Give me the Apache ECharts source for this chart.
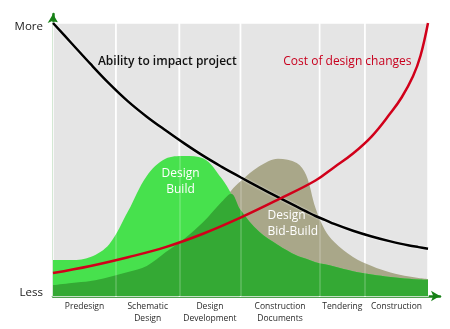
<!DOCTYPE html>
<html>
<head>
<meta charset="utf-8">
<script src="https://cdn.jsdelivr.net/npm/echarts@6/dist/echarts.min.js"></script>
<style>
  html, body { margin: 0; padding: 0; background: #fff; }
  #chart { width: 450px; height: 329px; }
</style>
</head>
<body>
<div id="chart"></div>
<script>
// Project phases and where each one starts/ends along the project timeline (0-100)
const phaseNames = ['Predesign', 'Schematic\nDesign', 'Design\nDevelopment', 'Construction\nDocuments', 'Tendering', 'Construction'];
const phaseBounds = [0, 16.8, 33.7, 50, 71.1, 83.2, 100];

// Timeline positions at which the effort and impact curves are sampled
const progress = [0, 5, 10, 15, 20, 25, 30, 35, 40, 45, 47.5, 50, 55, 60, 65, 67.5, 70, 72.5, 75, 80, 85, 90, 95, 97.5, 100];

// Ability to impact the project (Less = 0, More = 100)
const abilityToImpact = [100, 92.5, 85, 77.8, 71.3, 65.7, 60.7, 55.9, 51.4, 47.3, 45.4, 43.5, 39.8, 36.2, 32.7, 31, 29.3, 27.9, 26.4, 23.9, 21.8, 20, 18.5, 17.9, 17.3];
// Design effort: Design-Build delivery
const designBuild = [13.2, 13.2, 14.3, 19, 31, 44, 50.3, 51.3, 50.5, 43, 37.5, 31.5, 23.5, 18.7, 14.8, 13.6, 12.4, 11.6, 10.8, 9.1, 7.9, 7, 6.3, 6, 5.9];
// Design effort: Design-Bid-Build delivery
const designBidBuild = [4, 4.8, 5.5, 7, 8.8, 11, 16, 21, 27, 34.5, 38.6, 42, 47.5, 50.3, 48.7, 44.3, 32.2, 24.2, 19.8, 14.3, 11, 8.6, 7.1, 6.6, 6.2];

// Cost of design changes, sampled more finely where it climbs steeply
const costProgress = [0, 10, 20, 30, 40, 50, 60, 70, 75, 80, 85, 90, 93, 96, 98, 100];
const costOfChanges = [8.4, 11, 14.2, 17.9, 22.8, 28.7, 35.3, 42.3, 47.2, 52.2, 58.5, 67, 72.8, 80.5, 88, 100];

// Effort shared by both delivery methods (where the two areas overlap)
const sharedEffort = designBuild.map((v, i) => Math.min(v, designBidBuild[i]));

const pairs = (xs, arr) => xs.map((x, i) => [x, arr[i]]);

const FONT = '"Open Sans", "Noto Sans", sans-serif';
const AXIS_GREEN = '#178117';

const chart = echarts.init(document.getElementById('chart'), null, { renderer: 'canvas' });

const phaseAreas = phaseNames.map((name, i) => [
  { name: name, xAxis: phaseBounds[i], yAxis: 0 },
  { xAxis: phaseBounds[i + 1], yAxis: 100 }
]);

const areaSeries = (name, data, color, z) => ({
  name: name,
  type: 'line',
  data: pairs(progress, data),
  smooth: 0.35,
  showSymbol: false,
  z: z,
  lineStyle: { width: 0 },
  areaStyle: { color: color, opacity: 1 },
  silent: true
});

chart.setOption({
  animation: false,
  backgroundColor: '#fff',
  grid: { left: 53, right: 10, top: 14, bottom: 33 },
  xAxis: {
    type: 'value',
    min: 0,
    max: 103.2,
    axisLine: {
      show: true,
      symbol: ['none', 'arrow'],
      symbolSize: [8, 9],
      lineStyle: { color: AXIS_GREEN, width: 2.5 }
    },
    axisTick: { show: false },
    axisLabel: { show: false },
    splitLine: { show: false }
  },
  yAxis: {
    type: 'value',
    min: 0,
    max: 103.3,
    interval: 100,
    axisLine: {
      show: true,
      symbol: ['none', 'arrow'],
      symbolSize: [8, 9],
      lineStyle: { color: AXIS_GREEN, width: 2.5 }
    },
    axisTick: { show: false },
    splitLine: { show: false },
    axisLabel: {
      margin: 10,
      formatter: v => (v === 0 ? '{l|Less}' : v === 100 ? '{m|More}' : ''),
      rich: {
        m: { fontFamily: FONT, fontSize: 11.5, color: '#1a1a1a', padding: [8, 0, 0, 0] },
        l: { fontFamily: FONT, fontSize: 11.5, color: '#1a1a1a', padding: [0, 0, 7, 0] }
      }
    }
  },
  series: [
    {
      // phase bands and their names under the axis
      name: 'phases',
      type: 'line',
      data: [],
      z: 0,
      silent: true,
      markArea: {
        silent: true,
        itemStyle: { color: '#e5e5e5', borderColor: '#ffffff', borderWidth: 1.5 },
        label: {
          show: true,
          position: 'bottom',
          distance: 4,
          fontFamily: FONT,
          fontSize: 8.5,
          lineHeight: 12,
          color: '#2a2a2a',
          align: 'center'
        },
        data: phaseAreas
      }
    },
    areaSeries('Design Bid-Build', designBidBuild, '#a9a789', 1),
    areaSeries('Design Build', designBuild, '#47e14d', 2),
    areaSeries('Shared', sharedEffort, '#34a934', 3),
    {
      // faint phase separators showing through the effort areas
      name: 'separators',
      type: 'line',
      data: [],
      z: 4,
      silent: true,
      markLine: {
        silent: true,
        symbol: 'none',
        label: { show: false },
        lineStyle: { color: 'rgba(255,255,255,0.22)', width: 1.5, type: 'solid' },
        data: phaseBounds.slice(1, -1).map(x => ({ xAxis: x }))
      }
    },
    {
      name: 'Ability to impact project',
      type: 'line',
      data: pairs(progress, abilityToImpact),
      smooth: 0.35,
      showSymbol: false,
      z: 6,
      lineStyle: { color: '#000', width: 2.5, shadowColor: 'rgba(255,255,255,0.9)', shadowBlur: 2 }
    },
    {
      name: 'Cost of design changes',
      type: 'line',
      data: pairs(costProgress, costOfChanges),
      smooth: 0.4,
      showSymbol: false,
      z: 7,
      lineStyle: { color: '#d1001a', width: 2.5 }
    },
    {
      // annotations placed in data coordinates
      name: 'labels',
      type: 'line',
      data: [],
      z: 8,
      silent: true,
      markPoint: {
        silent: true,
        symbol: 'circle',
        symbolSize: 0,
        data: [
          {
            coord: [30.5, 85.7],
            label: { show: true, position: 'inside', formatter: 'Ability to impact project',
              fontFamily: FONT, fontSize: 12, fontWeight: 600, color: '#111' }
          },
          {
            coord: [78.5, 85.7],
            label: { show: true, position: 'inside', formatter: 'Cost of design changes',
              fontFamily: FONT, fontSize: 12, fontWeight: 500, color: '#c8001e' }
          },
          {
            coord: [34, 42],
            label: { show: true, position: 'inside', formatter: 'Design\nBuild', align: 'center',
              fontFamily: FONT, fontSize: 12, fontWeight: 500, lineHeight: 16, color: '#fff' }
          },
          {
            coord: [57.2, 26.4],
            label: { show: true, position: 'right', distance: 0, formatter: 'Design\nBid-Build', align: 'left',
              fontFamily: FONT, fontSize: 12, fontWeight: 500, lineHeight: 16, color: '#fff' }
          }
        ]
      }
    }
  ]
});
</script>
</body>
</html>
